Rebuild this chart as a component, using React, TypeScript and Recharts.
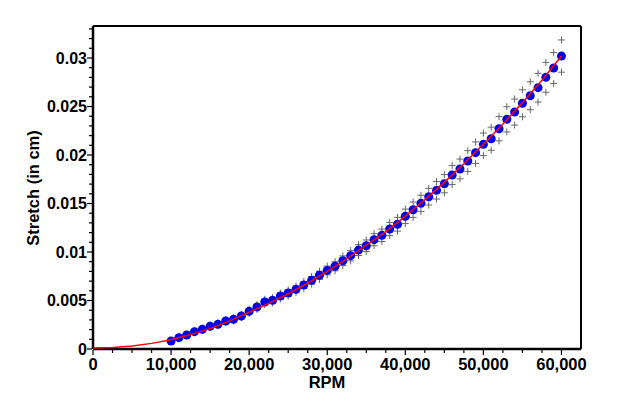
import React from 'react'
import {
  ComposedChart, Scatter, XAxis, YAxis, ReferenceLine
} from 'recharts'

// RPM of each measured point
const rpm = [
  10000, 11000, 12000, 13000, 14000, 15000, 16000, 17000, 18000, 19000,
  20000, 21000, 22000, 23000, 24000, 25000, 26000, 27000, 28000, 29000,
  30000, 31000, 32000, 33000, 34000, 35000, 36000, 37000, 38000, 39000,
  40000, 41000, 42000, 43000, 44000, 45000, 46000, 47000, 48000, 49000,
  50000, 51000, 52000, 53000, 54000, 55000, 56000, 57000, 58000, 59000, 60000
]

// measured stretch (blue dots)
const stretch = [
  0.00082, 0.00117, 0.00144, 0.00179, 0.00203, 0.00234, 0.00254, 0.00289, 0.00306, 0.0034,
  0.00388, 0.00433, 0.00485, 0.00502, 0.00546, 0.00577, 0.00615, 0.0066, 0.00708, 0.0076,
  0.0081, 0.00853, 0.0091, 0.00962, 0.0102, 0.01065, 0.01127, 0.01172, 0.01237, 0.01286,
  0.01368, 0.01436, 0.01502, 0.0157, 0.01636, 0.01704, 0.01794, 0.01856, 0.01938, 0.02024,
  0.0211, 0.02168, 0.02271, 0.02368, 0.02443, 0.02533, 0.02611, 0.02694, 0.02801, 0.02897, 0.0302
]

// upper / lower bound markers (grey +)
const upper = [
  0.00087, 0.00123, 0.00152, 0.00189, 0.00214, 0.00247, 0.00268, 0.00305, 0.00323, 0.00359,
  0.00409, 0.00457, 0.00512, 0.0053, 0.00576, 0.00609, 0.00649, 0.00696, 0.00747, 0.00802,
  0.00855, 0.009, 0.0096, 0.01015, 0.01076, 0.01124, 0.01189, 0.01236, 0.01305, 0.01357,
  0.01443, 0.01515, 0.01585, 0.01656, 0.01726, 0.01798, 0.01893, 0.01958, 0.02045, 0.02135,
  0.02226, 0.02287, 0.02396, 0.02498, 0.02577, 0.02672, 0.02755, 0.02842, 0.02955, 0.03056, 0.03186
]
const lower = [
  0.00077, 0.00111, 0.00136, 0.00169, 0.00192, 0.00221, 0.0024, 0.00273, 0.00289, 0.00321,
  0.00367, 0.00409, 0.00458, 0.00474, 0.00516, 0.00545, 0.00581, 0.00624, 0.00669, 0.00718,
  0.00765, 0.00806, 0.0086, 0.00909, 0.00964, 0.01006, 0.01065, 0.01108, 0.01169, 0.01215,
  0.01293, 0.01357, 0.01419, 0.01484, 0.01546, 0.0161, 0.01695, 0.01754, 0.01831, 0.01913,
  0.01994, 0.02049, 0.02146, 0.02238, 0.02309, 0.02394, 0.02467, 0.02546, 0.02647, 0.02738, 0.02854
]

// fitted curve (red line)
const fitRpm = [
  0, 2500, 5000, 7500, 10000, 12500, 15000, 17500, 20000, 22500, 25000, 27500, 30000,
  32500, 35000, 37500, 40000, 42500, 45000, 47500, 50000, 52500, 55000, 57500, 60000
]
const fitStretch = [
  0.0001, 0.00015, 0.0003, 0.00058, 0.00095, 0.0015, 0.0021, 0.0029, 0.0038, 0.0047,
  0.0057, 0.0068, 0.008, 0.0093, 0.0107, 0.0121, 0.0137, 0.0154, 0.0172, 0.0191,
  0.0211, 0.0232, 0.0254, 0.0277, 0.0302
]

const xTicks = [
  0, 2500, 5000, 7500, 10000, 12500, 15000, 17500, 20000, 22500, 25000, 27500, 30000,
  32500, 35000, 37500, 40000, 42500, 45000, 47500, 50000, 52500, 55000, 57500, 60000
]
const yTicks = Array.from({ length: 34 }, (_, i) => +(i * 0.001).toFixed(3))

const FONT = '"Liberation Sans", Arial, sans-serif'

const points = rpm.map((x, i) => ({ x, y: stretch[i] }))
const upperPts = rpm.map((x, i) => ({ x, y: upper[i] }))
const lowerPts = rpm.map((x, i) => ({ x, y: lower[i] }))
const fit = fitRpm.map((x, i) => ({ x, y: fitStretch[i] }))

const XTick = ({ x, y, payload }: any) => {
  const major = payload.value % 10000 === 0
  return (
    <g>
      <line x1={x} x2={x} y1={y + 1} y2={y + (major ? 6 : 4)} stroke="#000" strokeWidth={1.2} />
      {major && (
        <text x={x} y={y + 21} textAnchor="middle" fontSize={16.5} fontWeight="bold" fontFamily={FONT} fill="#000">
          {payload.value.toLocaleString('en-US')}
        </text>
      )}
    </g>
  )
}

const YTick = ({ x, y, payload }: any) => {
  const major = Math.round(payload.value * 1000) % 5 === 0
  return (
    <g>
      <line x1={x - 1} x2={x - (major ? 6 : 4)} y1={y} y2={y} stroke="#000" strokeWidth={1.2} />
      {major && (
        <text x={x - 6} y={y} textAnchor="end" dominantBaseline="central" fontSize={16} fontWeight="bold" fontFamily={FONT} fill="#000">
          {String(payload.value)}
        </text>
      )}
    </g>
  )
}

const Plus = ({ cx, cy }: any) => (
  <path d={`M${cx - 3.5},${cy}h7M${cx},${cy - 3.5}v7`} stroke="#666" strokeWidth={1} fill="none" />
)

const Dot = ({ cx, cy }: any) => <circle cx={cx} cy={cy} r={4.5} fill="#0000e8" />

const NoShape = () => <g />

export default function App() {
  return (
    <div style={{ position: 'absolute', left: 0, top: 0, width: 618, height: 404, background: '#fff' }}>
      <ComposedChart width={618} height={404} margin={{ top: 26, right: 37, left: 0, bottom: 0 }}>
        <XAxis
          type="number"
          dataKey="x"
          domain={[0, 62500]}
          ticks={xTicks}
          interval={0}
          tick={<XTick />}
          tickSize={0}
          tickMargin={0}
          tickLine={false}
          axisLine={{ stroke: '#000', strokeWidth: 2.5 }}
          height={55}
          label={{
            content: () => (
              <text x={327} y={388} textAnchor="middle" fontSize={16.5} fontWeight="bold" fontFamily={FONT} fill="#000">
                RPM
              </text>
            )
          }}
        />
        <YAxis
          type="number"
          dataKey="y"
          domain={[0, 0.0333]}
          ticks={yTicks}
          interval={0}
          tick={<YTick />}
          tickSize={0}
          tickMargin={0}
          tickLine={false}
          axisLine={{ stroke: '#000', strokeWidth: 2.5 }}
          width={93}
          label={{
            content: () => (
              <text
                x={33}
                y={188}
                transform="rotate(-90 33 188)"
                textAnchor="middle"
                dominantBaseline="central"
                fontSize={16.5}
                fontWeight="bold"
                fontFamily={FONT}
                fill="#000"
              >
                Stretch (in cm)
              </text>
            )
          }}
        />
        <ReferenceLine y={0.0333} stroke="#000" strokeWidth={2} ifOverflow="extendDomain" />
        <ReferenceLine x={62500} stroke="#000" strokeWidth={2} ifOverflow="extendDomain" />
        <Scatter data={upperPts} dataKey="y" shape={<Plus />} isAnimationActive={false} />
        <Scatter data={lowerPts} dataKey="y" shape={<Plus />} isAnimationActive={false} />
        <Scatter data={points} dataKey="y" shape={<Dot />} isAnimationActive={false} />
        <Scatter
          data={fit}
          dataKey="y"
          shape={<NoShape />}
          line={{ stroke: '#ff0000', strokeWidth: 1.5 }}
          lineType="joint"
          isAnimationActive={false}
        />
      </ComposedChart>
    </div>
  )
}
